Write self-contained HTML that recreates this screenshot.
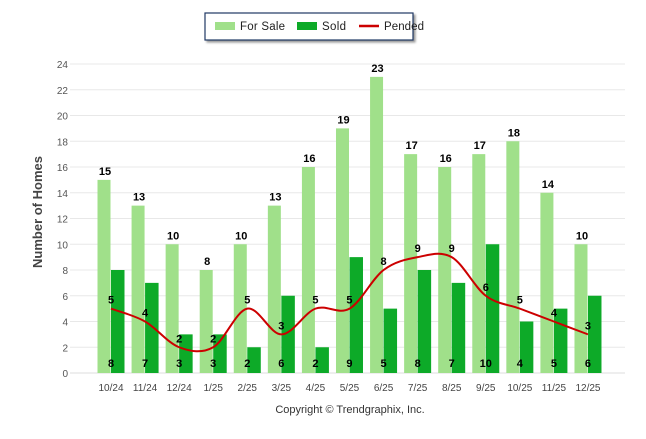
<!DOCTYPE html>
<html><head><meta charset="utf-8"><style>
body{margin:0;background:#fff;font-family:"Liberation Sans",sans-serif}
svg text{font-family:"Liberation Sans",sans-serif}
</style></head><body>
<svg width="646" height="434">
<g>
<rect x="205" y="13" width="208" height="27" fill="#fff" stroke="#1f3864" stroke-width="1.2" style="filter:drop-shadow(2px 2px 1px #999)"/>
<rect x="215" y="22" width="20" height="8" fill="#a0e08a"/>
<text x="240" y="30" font-size="11.5" fill="#222" textLength="45">For Sale</text>
<rect x="297" y="22" width="20" height="8" fill="#0daa28"/>
<text x="322" y="30" font-size="11.5" fill="#222" textLength="24">Sold</text>
<line x1="359" y1="26" x2="379" y2="26" stroke="#cc0000" stroke-width="2.5"/>
<text x="384" y="30" font-size="11.5" fill="#222" textLength="40">Pended</text>
</g>
<text transform="translate(42,212) rotate(-90)" text-anchor="middle" font-size="13" font-weight="bold" fill="#444">Number of Homes</text>
<g id="grid"></g><g id="bars"></g><g id="line"></g><g id="labels"></g>
<text x="350" y="413" text-anchor="middle" font-size="11" fill="#333">Copyright © Trendgraphix, Inc.</text>
</svg>
<script>
const categories=["10/24","11/24","12/24","1/25","2/25","3/25","4/25","5/25","6/25","7/25","8/25","9/25","10/25","11/25","12/25"];
const forSale=[15,13,10,8,10,13,16,19,23,17,16,17,18,14,10];
const sold=[8,7,3,3,2,6,2,9,5,8,7,10,4,5,6];
const pended=[5,4,2,2,5,3,5,5,8,9,9,6,5,4,3];
const yTicks=[0,2,4,6,8,10,12,14,16,18,20,22,24];
const NS="http://www.w3.org/2000/svg";
const y=v=>373-v*12.875;
const xc=i=>111+i*34.07;
function mk(t,a,p){const e=document.createElementNS(NS,t);for(const k in a)e.setAttribute(k,a[k]);p.appendChild(e);return e;}
const grid=document.getElementById('grid'),bars=document.getElementById('bars'),line=document.getElementById('line'),labels=document.getElementById('labels');
yTicks.forEach(v=>{
 const l=mk('line',{x1:70,x2:625,y1:y(v),y2:y(v),stroke:v?'#e8e8e8':'#dcdcdc','stroke-width':1},grid);
 
 
 const t=mk('text',{x:68,y:y(v)+4,'text-anchor':'end','font-size':10,fill:'#555'},grid);t.textContent=v;
 
 
});
categories.forEach((c,i)=>{
 const t=mk('text',{x:xc(i),y:391,'text-anchor':'middle','font-size':10,fill:'#444'},labels);t.textContent=c;
 
 
 const a=mk('rect',{x:xc(i)-13.5,y:y(forSale[i]),width:13,height:forSale[i]*12.875,fill:'#a0e08a'},bars);
 
 
 const b=mk('rect',{x:xc(i),y:y(sold[i]),width:13.5,height:sold[i]*12.875,fill:'#0daa28'},bars);
 
 
 const t1=mk('text',{x:xc(i)-6,y:y(forSale[i])-5,'text-anchor':'middle','font-size':11,'font-weight':'bold',fill:'#000'},labels);t1.textContent=forSale[i];
 
 
 const t2=mk('text',{x:xc(i),y:367,'text-anchor':'middle','font-size':11,'font-weight':'bold',fill:'#000'},labels);t2.textContent=sold[i];
 
 
 const t3=mk('text',{x:xc(i),y:y(pended[i])-5,'text-anchor':'middle','font-size':11,'font-weight':'bold',fill:'#000'},labels);t3.textContent=pended[i];
 
 
});
const pts=pended.map((v,i)=>[xc(i),y(v)]);
let d='M'+pts[0][0]+','+pts[0][1];
for(let i=0;i<pts.length-1;i++){
 const p0=pts[Math.max(0,i-1)],p1=pts[i],p2=pts[i+1],p3=pts[Math.min(pts.length-1,i+2)];
 const c1=[p1[0]+(p2[0]-p0[0])/6,p1[1]+(p2[1]-p0[1])/6],c2=[p2[0]-(p3[0]-p1[0])/6,p2[1]-(p3[1]-p1[1])/6];
 d+=` C${c1[0]},${c1[1]} ${c2[0]},${c2[1]} ${p2[0]},${p2[1]}`;
}
const pl=mk('path',{d:d,fill:'none',stroke:'#cc0000','stroke-width':2},line);


</script>
</body></html>
